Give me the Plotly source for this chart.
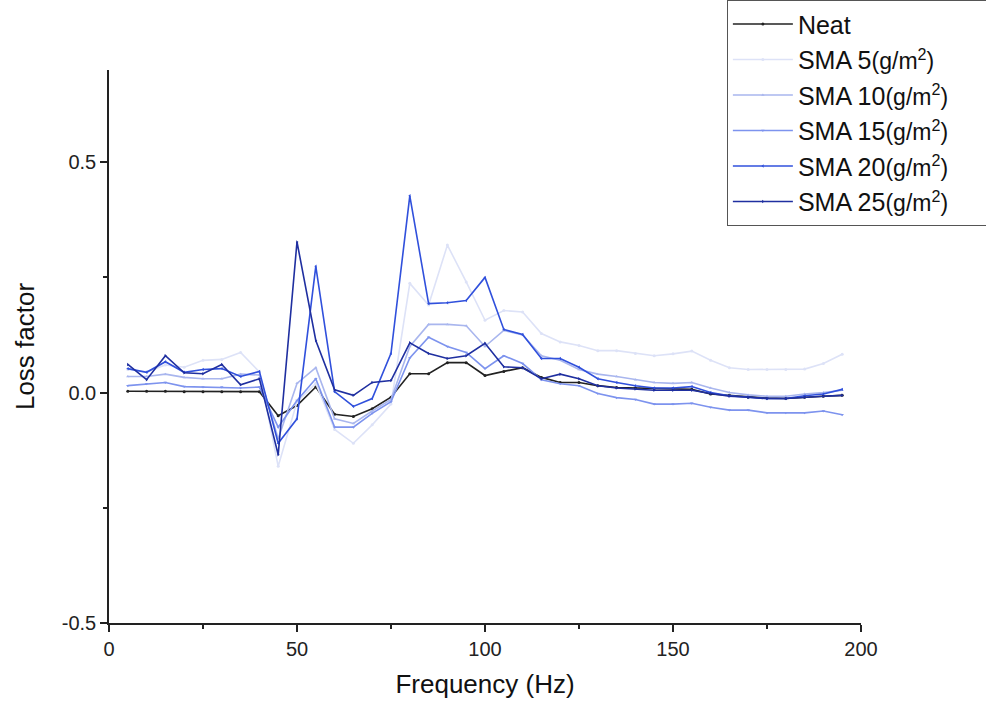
import plotly.graph_objects as go

freq = [5, 10, 15, 20, 25, 30, 35, 40, 45, 50, 55, 60, 65, 70, 75, 80, 85, 90, 95, 100,
        105, 110, 115, 120, 125, 130, 135, 140, 145, 150, 155, 160, 165, 170, 175, 180, 185, 190, 195]

neat = [0.003, 0.003, 0.003, 0.002, 0.002, 0.002, 0.002, 0.002, -0.05, -0.028, 0.012, -0.047, -0.052, -0.035, -0.01, 0.041,
        0.041, 0.065, 0.065, 0.037, 0.046, 0.054, 0.033, 0.022, 0.022, 0.015, 0.011, 0.01, 0.009, 0.009,
        0.007, -0.003, -0.006, -0.01, -0.012, -0.013, -0.01, -0.008, -0.006]

sma5 = [0.05, 0.045, 0.06, 0.055, 0.07, 0.072, 0.087, 0.045, -0.16, -0.02, 0.02, -0.08, -0.11, -0.07, -0.025, 0.237,
        0.19, 0.32, 0.24, 0.157, 0.178, 0.175, 0.128, 0.11, 0.102, 0.091, 0.091, 0.085, 0.08, 0.084,
        0.09, 0.07, 0.054, 0.05, 0.05, 0.05, 0.051, 0.063, 0.083]

sma10 = [0.035, 0.035, 0.04, 0.033, 0.03, 0.03, 0.04, 0.038, -0.1, 0.02, 0.054, -0.057, -0.067, -0.04, -0.015, 0.1,
         0.148, 0.148, 0.145, 0.1, 0.135, 0.125, 0.08, 0.07, 0.05, 0.04, 0.035, 0.028, 0.022, 0.02,
         0.022, 0.01, 0.0, -0.005, -0.008, -0.008, -0.003, 0.0, 0.005]

sma15 = [0.015, 0.019, 0.022, 0.013, 0.012, 0.012, 0.01, 0.012, -0.075, -0.017, 0.03, -0.075, -0.075, -0.045, -0.02, 0.075,
         0.12, 0.1, 0.087, 0.052, 0.08, 0.063, 0.028, 0.019, 0.015, -0.002, -0.011, -0.015, -0.025, -0.025,
         -0.023, -0.032, -0.038, -0.038, -0.044, -0.044, -0.044, -0.04, -0.048]

sma20 = [0.052, 0.044, 0.067, 0.044, 0.05, 0.052, 0.035, 0.046, -0.11, -0.057, 0.274, 0.002, -0.03, -0.013, 0.085, 0.427,
         0.193, 0.195, 0.2, 0.25, 0.137, 0.126, 0.074, 0.074, 0.055, 0.03, 0.022, 0.015, 0.01, 0.01,
         0.013, 0.0, -0.007, -0.01, -0.013, -0.013, -0.007, -0.003, 0.007]

sma25 = [0.061, 0.028, 0.08, 0.043, 0.041, 0.061, 0.017, 0.03, -0.135, 0.327, 0.113, 0.006, -0.006, 0.022, 0.026, 0.108,
         0.085, 0.074, 0.08, 0.107, 0.056, 0.054, 0.03, 0.04, 0.03, 0.015, 0.01, 0.008, 0.005, 0.005,
         0.005, -0.002, -0.008, -0.01, -0.013, -0.013, -0.01, -0.008, -0.006]

x_ticks = [0, 50, 100, 150, 200]
y_ticks = [-0.5, 0.0, 0.5]
y_ticktext = ["-0.5", "0.0", "0.5"]

sup = "<span style='font-size:23px'>(g/m<sup>2</sup>)</span>"
pad = "&nbsp;" * 6
series = [
    ("Neat", neat, "#222222", "circle"),
    ("SMA 5" + sup, sma5, "#dde2f7", "circle"),
    ("SMA 10" + sup, sma10, "#a9b6ee", "triangle-up"),
    ("SMA 15" + sup, sma15, "#7d93ee", "triangle-down"),
    ("SMA 20" + sup, sma20, "#3050dc", "triangle-left"),
    ("SMA 25" + sup + pad, sma25, "#1f2fa0", "triangle-right"),
]

fam = "Liberation Sans, Arial, sans-serif"
fig = go.Figure()
for name, vals, color, sym in series:
    fig.add_trace(go.Scatter(
        x=freq, y=vals, name=name, mode="lines+markers",
        line=dict(color=color, width=1.6),
        marker=dict(color=color, symbol=sym, size=3),
    ))

axis_font = dict(family=fam, size=20, color="#222")
fig.update_layout(
    width=986, height=715,
    margin=dict(l=109, r=125, t=70, b=92, autoexpand=False),
    paper_bgcolor="white", plot_bgcolor="white",
    font=dict(family=fam, color="#111"),
    showlegend=True,
    legend=dict(
        xref="container", yref="container",
        x=0.737, y=1.0, xanchor="left", yanchor="top",
        bordercolor="#555", borderwidth=1.2, bgcolor="white",
        font=dict(size=25, family=fam, color="#111"),
        itemwidth=60, tracegroupgap=0,
    ),
    xaxis=dict(
        range=[0, 200], tickvals=x_ticks,
        showgrid=False, zeroline=False, showline=True, linecolor="#222", linewidth=1.5,
        ticks="outside", ticklen=7, tickwidth=1.5, tickcolor="#222",
        minor=dict(tickvals=[25, 75, 125, 175], ticks="outside", ticklen=4, tickwidth=1.5, tickcolor="#222"),
        tickfont=axis_font,
        title=dict(text="Frequency (Hz)", font=dict(size=26, family=fam, color="#111"), standoff=16),
    ),
    yaxis=dict(
        range=[-0.5, 0.7], tickvals=y_ticks, ticktext=y_ticktext,
        showgrid=False, zeroline=False, showline=True, linecolor="#222", linewidth=1.5,
        ticks="outside", ticklen=7, tickwidth=1.5, tickcolor="#222",
        minor=dict(tickvals=[-0.25, 0.25], ticks="outside", ticklen=4, tickwidth=1.5, tickcolor="#222"),
        tickfont=axis_font,
        title=dict(text="Loss factor", font=dict(size=26, family=fam, color="#111"), standoff=20),
    ),
)

fig.write_html("out.html")
